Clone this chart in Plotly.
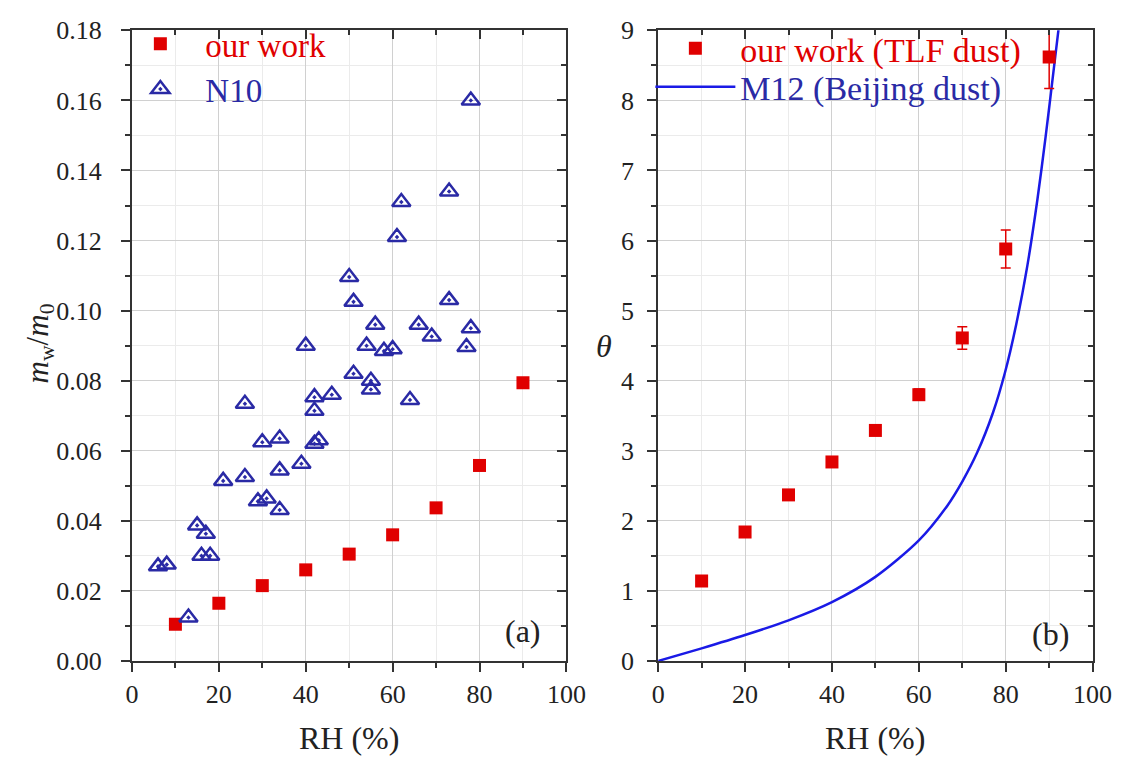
import plotly.graph_objects as go

# ---------------- data ----------------
rh_ours = [10, 20, 30, 40, 50, 60, 70, 80, 90]
mw_ours = [0.0105, 0.0165, 0.0215, 0.0260, 0.0305, 0.0360, 0.0437, 0.0558, 0.0794]

rh_n10 = [78, 62, 73, 61, 50, 51, 73, 56, 66, 78, 69, 40, 54, 58, 60, 77, 51, 55, 55, 46, 42,
          64, 26, 42, 34, 30, 43, 42, 39, 34, 26, 21, 29, 31, 34, 15, 17, 16, 18, 6, 8, 13]
mw_n10 = [0.160, 0.131, 0.134, 0.121, 0.1096, 0.1025, 0.103, 0.096, 0.096, 0.095, 0.0926,
          0.090, 0.090, 0.0885, 0.089, 0.0896, 0.082, 0.080, 0.0775, 0.076, 0.0753, 0.0745,
          0.0734, 0.0714, 0.0635, 0.0624, 0.063, 0.062, 0.0563, 0.0544, 0.0525, 0.0514,
          0.0456, 0.0464, 0.0431, 0.0387, 0.0363, 0.030, 0.030, 0.027, 0.0275, 0.0124]

theta_ours = [1.14, 1.84, 2.37, 2.84, 3.29, 3.80, 4.61, 5.88, 8.62]
theta_err = [0.05, 0.05, 0.05, 0.06, 0.07, 0.08, 0.16, 0.27, 0.45]

rh_m12 = [0, 10, 20, 30, 40, 50, 60, 66.6, 70, 73.4, 77.1, 79.8, 82.4, 85.0, 87.3, 89.2, 90.7, 92.2, 93.0]
theta_m12 = [0, 0.18, 0.37, 0.58, 0.84, 1.20, 1.72, 2.22, 2.56, 2.97, 3.55, 4.11, 4.80, 5.65,
             6.59, 7.49, 8.26, 9.04, 9.45]

x_ticks = [0, 20, 40, 60, 80, 100]

# ---------------- layout helpers ----------------
W, H = 1138, 778
def px(x):
    return x / W
def py(y):
    return 1 - y / H

FONT = "Liberation Serif"
RED = "#e00000"
DBLUE = "#2a2aa5"
LBLUE = "#1a1ae6"
AX = "#333333"
TXT = "#222222"

fig = go.Figure()

# Left panel
fig.add_trace(go.Scatter(
    x=rh_ours, y=mw_ours, mode="markers", name=f'<span style="color:{RED}">our work</span>',
    marker=dict(symbol="square", size=13, color=RED, line=dict(width=0)),
    xaxis="x", yaxis="y", legend="legend"))
fig.add_trace(go.Scatter(
    x=rh_n10, y=mw_n10, mode="markers", name=f'<span style="color:{DBLUE}">N10</span>',
    marker=dict(symbol="triangle-up-open-dot", size=16, color=DBLUE, line=dict(width=2.5)),
    xaxis="x", yaxis="y", legend="legend2"))

# Right panel
fig.add_trace(go.Scatter(
    x=rh_m12, y=theta_m12, mode="lines", name=f'<span style="color:{DBLUE}">M12 (Beijing dust)</span>',
    line=dict(color=LBLUE, width=2.5, shape="spline", smoothing=0.8),
    xaxis="x2", yaxis="y2", legend="legend4"))
fig.add_trace(go.Scatter(
    x=rh_ours, y=theta_ours, mode="markers", name=f'<span style="color:{RED}">our work (TLF dust)</span>',
    marker=dict(symbol="square", size=13, color=RED, line=dict(width=0)),
    error_y=dict(type="data", array=theta_err, visible=True, color=RED, thickness=1.5, width=5),
    xaxis="x2", yaxis="y2", legend="legend3"))

# invisible traces for mirrored (inside) tick axes
for xa, ya in (("x3", "y3"), ("x4", "y4")):
    fig.add_trace(go.Scatter(x=[None], y=[None], xaxis=xa, yaxis=ya, showlegend=False,
                             hoverinfo="skip", mode="markers"))

tickfont = dict(family=FONT, size=26, color=TXT)

def main_axis(rng, dtick, mdtick, **kw):
    d = dict(range=rng, dtick=dtick, tick0=0, ticks="outside", ticklen=9, tickwidth=2,
             tickcolor=AX, showline=True, linewidth=2, linecolor=AX, mirror=True,
             showgrid=True, gridcolor="#d0d0d0", gridwidth=1, zeroline=False,
             tickfont=tickfont,
             minor=dict(dtick=mdtick, ticks="outside", ticklen=5, tickwidth=2, tickcolor=AX,
                        showgrid=True, gridcolor="#ebebeb", gridwidth=1))
    d.update(kw)
    return d

def mirror_axis(rng, dtick, mdtick, **kw):
    d = dict(range=rng, dtick=dtick, tick0=0, ticks="inside", ticklen=9, tickwidth=2,
             tickcolor=AX, showline=False, showgrid=False, zeroline=False,
             showticklabels=False,
             minor=dict(dtick=mdtick, ticks="inside", ticklen=5, tickwidth=2, tickcolor=AX,
                        showgrid=False))
    d.update(kw)
    return d

ydom = [py(672), py(17)]
xdom1 = [px(128), px(573)]
xdom2 = [px(667), px(1112)]

def leg(x, y, size):
    return dict(x=px(x), y=py(y), xanchor="left", yanchor="middle", bgcolor="rgba(0,0,0,0)",
                font=dict(family=FONT, size=size), itemwidth=80, tracegroupgap=0)

def ann(text, x, y, size=32, **kw):
    d = dict(text=text, x=px(x), y=py(y), xref="paper", yref="paper", showarrow=False,
             xanchor="center", yanchor="middle", font=dict(family=FONT, size=size, color=TXT))
    d.update(kw)
    return d

fig.update_layout(
    width=W, height=H, margin=dict(l=0, r=0, t=0, b=0),
    paper_bgcolor="white", plot_bgcolor="white",
    font=dict(family=FONT, size=26, color=TXT),
    xaxis=main_axis([0, 100], 20, 10, domain=xdom1, anchor="y", tickvals=x_ticks),
    yaxis=main_axis([0, 0.18], 0.02, 0.01, domain=ydom, anchor="x", tickformat=".2f",
                    ticklabelstandoff=14),
    xaxis2=main_axis([0, 100], 20, 10, domain=xdom2, anchor="y2", tickvals=x_ticks),
    yaxis2=main_axis([0, 9], 1, 0.5, domain=ydom, anchor="x2", ticklabelstandoff=8),
    xaxis3=mirror_axis([0, 100], 20, 10, overlaying="x", anchor="y3", side="top"),
    yaxis3=mirror_axis([0, 0.18], 0.02, 0.01, overlaying="y", anchor="x3", side="right"),
    xaxis4=mirror_axis([0, 100], 20, 10, overlaying="x2", anchor="y4", side="top"),
    yaxis4=mirror_axis([0, 9], 1, 0.5, overlaying="y2", anchor="x4", side="right"),
    legend=leg(111, 31, 33),
    legend2=leg(111, 78, 33),
    legend3=leg(659, 36, 34),
    legend4=leg(659, 76, 34),
    showlegend=True,
    annotations=[
        ann("<i>m</i><sub>w</sub>/<i>m</i><sub>0</sub>", 34, 342, size=31, textangle=-90),
        ann("<i>θ</i>", 612, 345),
        ann("RH (%)", 350, 752),
        ann("RH (%)", 889, 752),
        ann("(a)", 529, 641),
        ann("(b)", 1069, 644),
    ],
)

fig.write_html("out.html")
